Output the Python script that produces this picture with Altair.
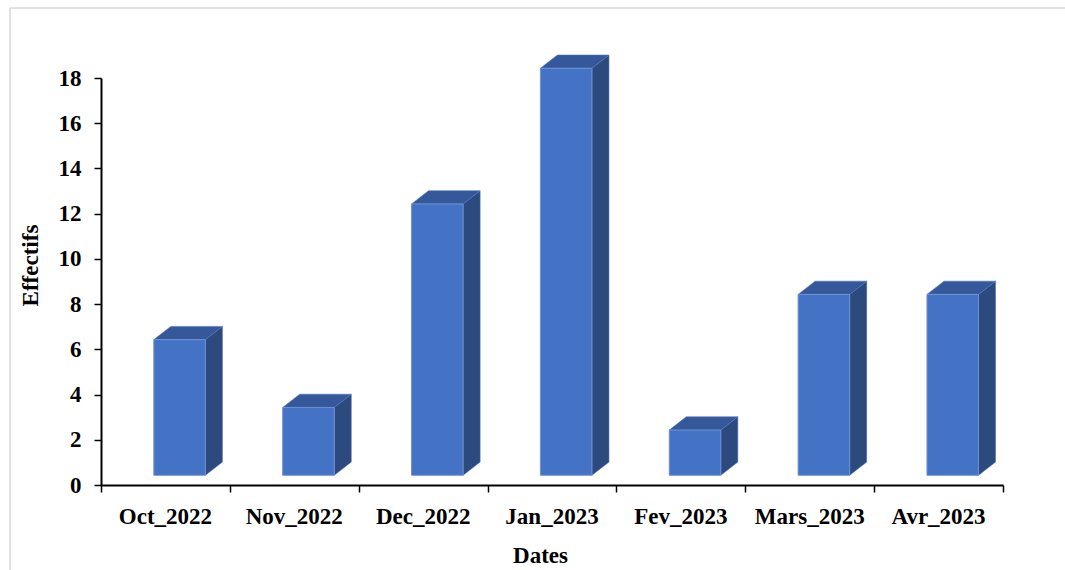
import altair as alt
import pandas as pd

# Monthly counts
months = ["Oct_2022", "Nov_2022", "Dec_2022", "Jan_2023", "Fev_2023", "Mars_2023", "Avr_2023"]
effectifs = [6, 3, 12, 18, 2, 8, 8]
y_ticks = list(range(0, 20, 2))

# 3D box geometry in data units (x: one unit per month, y: one unit per count)
LEFT = 0.41      # gap from month slot start to front face
WIDTH = 0.40     # front face width
LIFT = 0.43      # front face lifted off the floor
DX = 0.132       # depth, horizontal
DY = 0.585       # depth, vertical

FONT = "Liberation Serif"
FRONT, SIDE, TOP = "#4472C4", "#2C4A7E", "#34589A"

front_rows, side_rows, top_rows, label_rows = [], [], [], []
for i, (m, v) in enumerate(zip(months, effectifs)):
    x0, x1 = i + LEFT, i + LEFT + WIDTH
    front_rows.append({"month": m, "x": x0, "x2": x1, "y": LIFT, "y2": v + LIFT})
    side_rows += [
        {"month": m, "x": x1, "y": LIFT, "y2": v + LIFT},
        {"month": m, "x": x1 + DX, "y": LIFT + DY, "y2": v + LIFT + DY},
    ]
    top_rows += [
        {"month": m, "y": v + LIFT, "x": x0, "x2": x1},
        {"month": m, "y": v + LIFT + DY, "x": x0 + DX, "x2": x1 + DX},
    ]
    label_rows.append({"month": m, "x": i + 0.5, "y": 0})

xs = alt.Scale(domain=[0, len(months)], nice=False, zero=False)
ys = alt.Scale(domain=[0, 18], nice=False, zero=False)

x_axis = alt.Axis(
    values=list(range(len(months) + 1)), labels=False, grid=False,
    tickSize=7, tickWidth=1.5, tickColor="black",
    domainColor="black", domainWidth=2,
    title="Dates", titleFont=FONT, titleFontSize=23, titleFontWeight="bold",
    titleColor="black", titleBaseline="alphabetic", titleX=439, titleY=77,
    titleAlign="center",
)
y_axis = alt.Axis(
    values=y_ticks, grid=False, tickSize=7, tickWidth=1.5, tickColor="black",
    domainColor="black", domainWidth=2,
    labelFont=FONT, labelFontSize=23, labelFontWeight="bold", labelColor="black",
    labelPadding=13,
    title="Effectifs", titleFont=FONT, titleFontSize=23, titleFontWeight="bold",
    titleColor="black", titleAngle=-90, titleBaseline="alphabetic",
    titleX=-64, titleY=187, titleAlign="center",
)

front = alt.Chart(pd.DataFrame(front_rows)).mark_rect(
    color=FRONT, stroke="#6F91D3", strokeWidth=1
).encode(
    x=alt.X("x:Q", scale=xs, axis=x_axis),
    x2="x2:Q",
    y=alt.Y("y:Q", scale=ys, axis=y_axis),
    y2="y2:Q",
)

side = alt.Chart(pd.DataFrame(side_rows)).mark_area(
    color=SIDE, stroke="#4A6AA8", strokeWidth=0.6
).encode(
    x=alt.X("x:Q", scale=xs), y=alt.Y("y:Q", scale=ys), y2="y2:Q",
    detail="month:N",
)

top = alt.Chart(pd.DataFrame(top_rows)).mark_area(
    orient="horizontal", color=TOP, stroke="#5176BA", strokeWidth=0.6
).encode(
    y=alt.Y("y:Q", scale=ys), x=alt.X("x:Q", scale=xs), x2="x2:Q",
    detail="month:N",
)

labels = alt.Chart(pd.DataFrame(label_rows)).mark_text(
    font=FONT, fontSize=23, fontWeight="bold", color="black",
    baseline="alphabetic", align="center", dy=39,
).encode(
    x=alt.X("x:Q", scale=xs), y=alt.Y("y:Q", scale=ys), text="month:N",
)

# light frame around the whole figure
frame_top = alt.Chart(pd.DataFrame({"k": [0]})).mark_rule(
    color="#D9D9D9", strokeWidth=1.5
).encode(x=alt.value(-91), x2=alt.value(970), y=alt.value(-70))
frame_left = alt.Chart(pd.DataFrame({"k": [0]})).mark_rule(
    color="#D9D9D9", strokeWidth=1.5
).encode(x=alt.value(-91), y=alt.value(-70), y2=alt.value(500))

chart = alt.layer(
    frame_top, frame_left, side, top, front, labels
).properties(
    width=902, height=407,
    autosize=alt.AutoSizeParams(type="none"),
    padding={"left": 101, "top": 78, "right": 62, "bottom": 85},
    background="white",
).configure_view(stroke=None)

chart.save("out.html", embed_options={"renderer": "svg", "actions": False})
